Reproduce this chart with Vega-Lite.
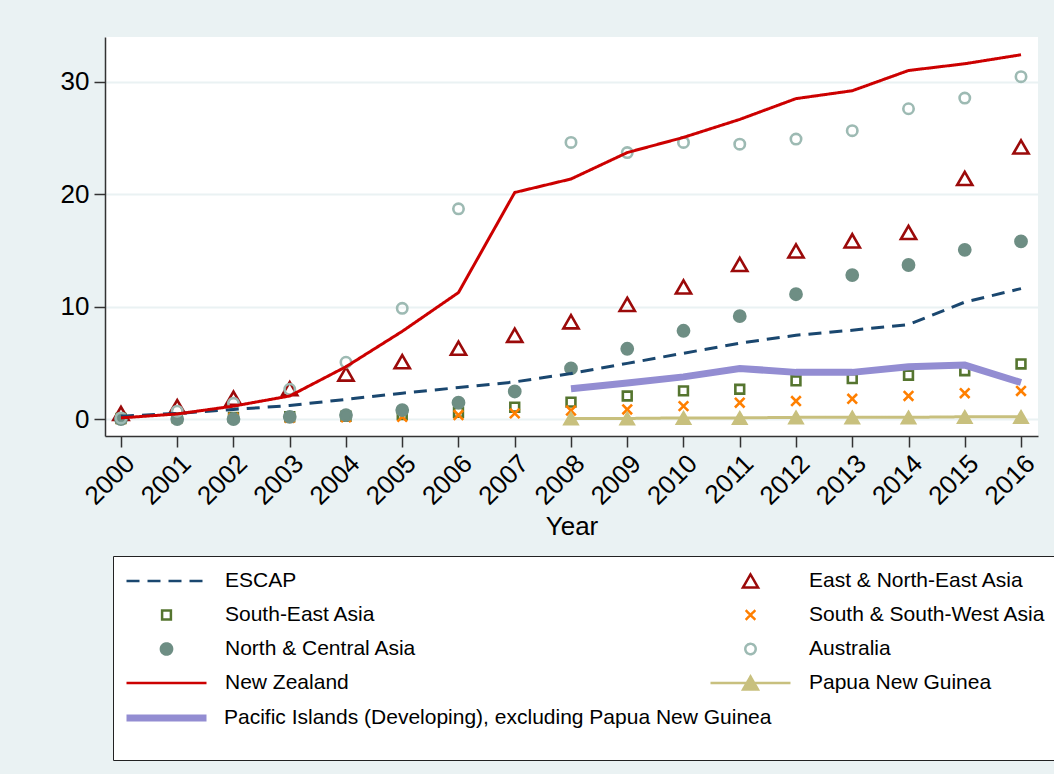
{
  "$schema": "https://vega.github.io/schema/vega-lite/v6.json",
  "autosize": "none",
  "width": 933,
  "height": 399,
  "padding": {"left": 105, "top": 37, "right": 16, "bottom": 338},
  "background": "#EAF2F3",
  "config": {
    "font": "Liberation Sans",
    "view": {"fill": "white", "stroke": null},
    "axis": {
      "domainColor": "#333333",
      "domainWidth": 1.5,
      "tickColor": "#333333",
      "tickWidth": 1.5,
      "tickSize": 11,
      "labelFont": "Liberation Sans",
      "labelFontSize": 26,
      "labelColor": "black",
      "titleFont": "Liberation Sans",
      "titleFontSize": 26,
      "titleFontWeight": "normal",
      "titleColor": "black",
      "labelOverlap": false,
      "labelFlush": false,
      "labelBound": false
    },
    "legend": {
      "labelFont": "Liberation Sans",
      "labelFontSize": 21,
      "labelColor": "black",
      "labelLimit": 700
    }
  },
  "datasets": {
    "shares": [
      {"year": 2000, "series": "ESCAP", "value": 0.25},
      {"year": 2001, "series": "ESCAP", "value": 0.5},
      {"year": 2002, "series": "ESCAP", "value": 0.85},
      {"year": 2003, "series": "ESCAP", "value": 1.2},
      {"year": 2004, "series": "ESCAP", "value": 1.75},
      {"year": 2005, "series": "ESCAP", "value": 2.3},
      {"year": 2006, "series": "ESCAP", "value": 2.8},
      {"year": 2007, "series": "ESCAP", "value": 3.3},
      {"year": 2008, "series": "ESCAP", "value": 4.05},
      {"year": 2009, "series": "ESCAP", "value": 4.95},
      {"year": 2010, "series": "ESCAP", "value": 5.85},
      {"year": 2011, "series": "ESCAP", "value": 6.75},
      {"year": 2012, "series": "ESCAP", "value": 7.45},
      {"year": 2013, "series": "ESCAP", "value": 7.9},
      {"year": 2014, "series": "ESCAP", "value": 8.4},
      {"year": 2015, "series": "ESCAP", "value": 10.4},
      {"year": 2016, "series": "ESCAP", "value": 11.6},

      {"year": 2000, "series": "East & North-East Asia", "value": 0.5},
      {"year": 2001, "series": "East & North-East Asia", "value": 1.1},
      {"year": 2002, "series": "East & North-East Asia", "value": 1.85},
      {"year": 2003, "series": "East & North-East Asia", "value": 2.7},
      {"year": 2004, "series": "East & North-East Asia", "value": 4.0},
      {"year": 2005, "series": "East & North-East Asia", "value": 5.1},
      {"year": 2006, "series": "East & North-East Asia", "value": 6.3},
      {"year": 2007, "series": "East & North-East Asia", "value": 7.45},
      {"year": 2008, "series": "East & North-East Asia", "value": 8.65},
      {"year": 2009, "series": "East & North-East Asia", "value": 10.2},
      {"year": 2010, "series": "East & North-East Asia", "value": 11.75},
      {"year": 2011, "series": "East & North-East Asia", "value": 13.75},
      {"year": 2012, "series": "East & North-East Asia", "value": 14.95},
      {"year": 2013, "series": "East & North-East Asia", "value": 15.85},
      {"year": 2014, "series": "East & North-East Asia", "value": 16.6},
      {"year": 2015, "series": "East & North-East Asia", "value": 21.4},
      {"year": 2016, "series": "East & North-East Asia", "value": 24.2},

      {"year": 2000, "series": "South-East Asia", "value": 0.05},
      {"year": 2001, "series": "South-East Asia", "value": 0.1},
      {"year": 2002, "series": "South-East Asia", "value": 0.15},
      {"year": 2003, "series": "South-East Asia", "value": 0.2},
      {"year": 2004, "series": "South-East Asia", "value": 0.25},
      {"year": 2005, "series": "South-East Asia", "value": 0.4},
      {"year": 2006, "series": "South-East Asia", "value": 0.6},
      {"year": 2007, "series": "South-East Asia", "value": 1.05},
      {"year": 2008, "series": "South-East Asia", "value": 1.5},
      {"year": 2009, "series": "South-East Asia", "value": 2.05},
      {"year": 2010, "series": "South-East Asia", "value": 2.5},
      {"year": 2011, "series": "South-East Asia", "value": 2.65},
      {"year": 2012, "series": "South-East Asia", "value": 3.4},
      {"year": 2013, "series": "South-East Asia", "value": 3.6},
      {"year": 2014, "series": "South-East Asia", "value": 3.9},
      {"year": 2015, "series": "South-East Asia", "value": 4.3},
      {"year": 2016, "series": "South-East Asia", "value": 4.9},

      {"year": 2000, "series": "South & South-West Asia", "value": 0.0},
      {"year": 2001, "series": "South & South-West Asia", "value": 0.05},
      {"year": 2002, "series": "South & South-West Asia", "value": 0.1},
      {"year": 2003, "series": "South & South-West Asia", "value": 0.1},
      {"year": 2004, "series": "South & South-West Asia", "value": 0.15},
      {"year": 2005, "series": "South & South-West Asia", "value": 0.2},
      {"year": 2006, "series": "South & South-West Asia", "value": 0.35},
      {"year": 2007, "series": "South & South-West Asia", "value": 0.5},
      {"year": 2008, "series": "South & South-West Asia", "value": 0.75},
      {"year": 2009, "series": "South & South-West Asia", "value": 0.85},
      {"year": 2010, "series": "South & South-West Asia", "value": 1.15},
      {"year": 2011, "series": "South & South-West Asia", "value": 1.45},
      {"year": 2012, "series": "South & South-West Asia", "value": 1.6},
      {"year": 2013, "series": "South & South-West Asia", "value": 1.8},
      {"year": 2014, "series": "South & South-West Asia", "value": 2.05},
      {"year": 2015, "series": "South & South-West Asia", "value": 2.3},
      {"year": 2016, "series": "South & South-West Asia", "value": 2.5},

      {"year": 2000, "series": "North & Central Asia", "value": 0.0},
      {"year": 2001, "series": "North & Central Asia", "value": 0.0},
      {"year": 2002, "series": "North & Central Asia", "value": 0.0},
      {"year": 2003, "series": "North & Central Asia", "value": 0.2},
      {"year": 2004, "series": "North & Central Asia", "value": 0.35},
      {"year": 2005, "series": "North & Central Asia", "value": 0.8},
      {"year": 2006, "series": "North & Central Asia", "value": 1.45},
      {"year": 2007, "series": "North & Central Asia", "value": 2.45},
      {"year": 2008, "series": "North & Central Asia", "value": 4.5},
      {"year": 2009, "series": "North & Central Asia", "value": 6.25},
      {"year": 2010, "series": "North & Central Asia", "value": 7.85},
      {"year": 2011, "series": "North & Central Asia", "value": 9.15},
      {"year": 2012, "series": "North & Central Asia", "value": 11.1},
      {"year": 2013, "series": "North & Central Asia", "value": 12.8},
      {"year": 2014, "series": "North & Central Asia", "value": 13.7},
      {"year": 2015, "series": "North & Central Asia", "value": 15.05},
      {"year": 2016, "series": "North & Central Asia", "value": 15.8},

      {"year": 2000, "series": "Australia", "value": 0.1},
      {"year": 2001, "series": "Australia", "value": 0.7},
      {"year": 2002, "series": "Australia", "value": 1.4},
      {"year": 2003, "series": "Australia", "value": 2.65},
      {"year": 2004, "series": "Australia", "value": 5.05},
      {"year": 2005, "series": "Australia", "value": 9.85},
      {"year": 2006, "series": "Australia", "value": 18.7},
      {"year": 2008, "series": "Australia", "value": 24.6},
      {"year": 2009, "series": "Australia", "value": 23.7},
      {"year": 2010, "series": "Australia", "value": 24.6},
      {"year": 2011, "series": "Australia", "value": 24.45},
      {"year": 2012, "series": "Australia", "value": 24.9},
      {"year": 2013, "series": "Australia", "value": 25.65},
      {"year": 2014, "series": "Australia", "value": 27.6},
      {"year": 2015, "series": "Australia", "value": 28.55},
      {"year": 2016, "series": "Australia", "value": 30.45},

      {"year": 2000, "series": "New Zealand", "value": 0.1},
      {"year": 2001, "series": "New Zealand", "value": 0.45},
      {"year": 2002, "series": "New Zealand", "value": 1.15},
      {"year": 2003, "series": "New Zealand", "value": 2.05},
      {"year": 2004, "series": "New Zealand", "value": 4.65},
      {"year": 2005, "series": "New Zealand", "value": 7.8},
      {"year": 2006, "series": "New Zealand", "value": 11.25},
      {"year": 2007, "series": "New Zealand", "value": 20.15},
      {"year": 2008, "series": "New Zealand", "value": 21.35},
      {"year": 2009, "series": "New Zealand", "value": 23.7},
      {"year": 2010, "series": "New Zealand", "value": 25.05},
      {"year": 2011, "series": "New Zealand", "value": 26.65},
      {"year": 2012, "series": "New Zealand", "value": 28.5},
      {"year": 2013, "series": "New Zealand", "value": 29.2},
      {"year": 2014, "series": "New Zealand", "value": 31.0},
      {"year": 2015, "series": "New Zealand", "value": 31.6},
      {"year": 2016, "series": "New Zealand", "value": 32.4},

      {"year": 2008, "series": "Papua New Guinea", "value": 0.05},
      {"year": 2009, "series": "Papua New Guinea", "value": 0.05},
      {"year": 2010, "series": "Papua New Guinea", "value": 0.1},
      {"year": 2011, "series": "Papua New Guinea", "value": 0.1},
      {"year": 2012, "series": "Papua New Guinea", "value": 0.15},
      {"year": 2013, "series": "Papua New Guinea", "value": 0.15},
      {"year": 2014, "series": "Papua New Guinea", "value": 0.15},
      {"year": 2015, "series": "Papua New Guinea", "value": 0.2},
      {"year": 2016, "series": "Papua New Guinea", "value": 0.2},

      {"year": 2008, "series": "Pacific Islands (Developing), excluding Papua New Guinea", "value": 2.7},
      {"year": 2009, "series": "Pacific Islands (Developing), excluding Papua New Guinea", "value": 3.2},
      {"year": 2010, "series": "Pacific Islands (Developing), excluding Papua New Guinea", "value": 3.75},
      {"year": 2011, "series": "Pacific Islands (Developing), excluding Papua New Guinea", "value": 4.5},
      {"year": 2012, "series": "Pacific Islands (Developing), excluding Papua New Guinea", "value": 4.15},
      {"year": 2013, "series": "Pacific Islands (Developing), excluding Papua New Guinea", "value": 4.15},
      {"year": 2014, "series": "Pacific Islands (Developing), excluding Papua New Guinea", "value": 4.65},
      {"year": 2015, "series": "Pacific Islands (Developing), excluding Papua New Guinea", "value": 4.8},
      {"year": 2016, "series": "Pacific Islands (Developing), excluding Papua New Guinea", "value": 3.25}
    ]
  },
  "data": {"name": "shares"},
  "encoding": {
    "x": {
      "field": "year",
      "type": "quantitative",
      "scale": {"domain": [1999.716, 2016.302], "nice": false, "zero": false},
      "axis": {
        "title": "Year",
        "values": [2000, 2001, 2002, 2003, 2004, 2005, 2006, 2007, 2008, 2009, 2010, 2011, 2012, 2013, 2014, 2015, 2016],
        "format": "d",
        "labelAngle": -45,
        "labelPadding": 3,
        "titlePadding": 4,
        "grid": false
      }
    },
    "y": {
      "field": "value",
      "type": "quantitative",
      "scale": {"domain": [-1.51, 33.98], "nice": false, "zero": false},
      "axis": {
        "title": null,
        "values": [0, 10, 20, 30],
        "labelPadding": 5,
        "grid": true,
        "gridColor": "#EAF2F3",
        "gridWidth": 2
      }
    }
  },
  "layer": [
    {
      "transform": [{"filter": {"field": "series", "oneOf": ["East & North-East Asia", "South-East Asia", "South & South-West Asia", "North & Central Asia", "Australia"]}}],
      "mark": {"type": "point", "size": 6400, "strokeWidth": 2.6, "opacity": 1},
      "encoding": {
        "stroke": {
          "field": "series",
          "type": "nominal",
          "scale": {
            "domain": ["ESCAP", "East & North-East Asia", "South-East Asia", "South & South-West Asia", "North & Central Asia", "Australia", "New Zealand", "Papua New Guinea"],
            "range": ["#1a476f", "#9b0a0a", "#55752f", "#ff7f00", "#6e8e84", "#9dbab3", "#cc0000", "#c8c07e"]
          },
          "legend": {
            "title": " ",
            "titleOrient": "bottom",
            "titleFontSize": 20,
            "titlePadding": 32,
            "orient": "none",
            "direction": "horizontal",
            "legendX": 8,
            "legendY": 519,
            "columns": 2,
            "columnPadding": 288,
            "rowPadding": 0,
            "clipHeight": 34,
            "padding": 8,
            "symbolOffset": 4,
            "labelOffset": 17,
            "symbolSize": 6400,
            "symbolStrokeWidth": 2.5,
            "fillColor": "white",
            "strokeColor": "#222222"
          }
        },
        "fill": {
          "field": "series",
          "type": "nominal",
          "scale": {
            "domain": ["ESCAP", "East & North-East Asia", "South-East Asia", "South & South-West Asia", "North & Central Asia", "Australia", "New Zealand", "Papua New Guinea"],
            "range": ["transparent", "transparent", "transparent", "transparent", "#6e8e84", "transparent", "transparent", "#c8c07e"]
          }
        },
        "shape": {
          "field": "series",
          "type": "nominal",
          "scale": {
            "domain": ["ESCAP", "East & North-East Asia", "South-East Asia", "South & South-West Asia", "North & Central Asia", "Australia", "New Zealand", "Papua New Guinea"],
            "range": [
              "stroke",
              "M0,-0.165L0.19,0.165L-0.19,0.165Z",
              "M-0.11,-0.11L0.11,-0.11L0.11,0.11L-0.11,0.11Z",
              "M-0.12,-0.12L0.12,0.12M-0.12,0.12L0.12,-0.12",
              "M-0.14,0A0.14,0.14,0,1,1,0.14,0A0.14,0.14,0,1,1,-0.14,0Z",
              "M-0.13,0A0.13,0.13,0,1,1,0.13,0A0.13,0.13,0,1,1,-0.13,0Z",
              "stroke",
              "M-1,0L1,0M0,-0.16L0.185,0.16L-0.185,0.16Z"
            ]
          }
        }
      }
    },
    {
      "transform": [{"filter": {"field": "series", "oneOf": ["ESCAP", "New Zealand", "Papua New Guinea"]}}],
      "mark": {"type": "line", "strokeWidth": 3},
      "encoding": {
        "stroke": {
          "field": "series",
          "type": "nominal",
          "scale": {
            "domain": ["ESCAP", "East & North-East Asia", "South-East Asia", "South & South-West Asia", "North & Central Asia", "Australia", "New Zealand", "Papua New Guinea"],
            "range": ["#1a476f", "#9b0a0a", "#55752f", "#ff7f00", "#6e8e84", "#9dbab3", "#cc0000", "#c8c07e"]
          }
        },
        "strokeDash": {
          "field": "series",
          "type": "nominal",
          "scale": {
            "domain": ["ESCAP", "East & North-East Asia", "South-East Asia", "South & South-West Asia", "North & Central Asia", "Australia", "New Zealand", "Papua New Guinea"],
            "range": [[13, 8], [1, 0], [1, 0], [1, 0], [1, 0], [1, 0], [1, 0], [1, 0]]
          }
        }
      }
    },
    {
      "transform": [{"filter": {"field": "series", "equal": "Papua New Guinea"}}],
      "mark": {
        "type": "point",
        "shape": "M0,-0.16L0.185,0.16L-0.185,0.16Z",
        "size": 6400,
        "filled": true,
        "fill": "#c8c07e",
        "stroke": "#c8c07e",
        "strokeWidth": 1.5,
        "opacity": 1
      }
    },
    {
      "transform": [{"filter": {"field": "series", "equal": "Pacific Islands (Developing), excluding Papua New Guinea"}}],
      "mark": {"type": "line", "strokeWidth": 7},
      "encoding": {
        "color": {
          "field": "series",
          "type": "nominal",
          "scale": {
            "domain": ["Pacific Islands (Developing), excluding Papua New Guinea"],
            "range": ["#938dd2"]
          },
          "legend": {
            "title": null,
            "orient": "none",
            "legendX": 14,
            "legendY": 664,
            "padding": 0,
            "clipHeight": 34,
            "symbolType": "stroke",
            "symbolSize": 6400,
            "symbolStrokeWidth": 7,
            "symbolOffset": 4,
            "labelOffset": 14,
            "zindex": 1
          }
        }
      }
    }
  ]
}
